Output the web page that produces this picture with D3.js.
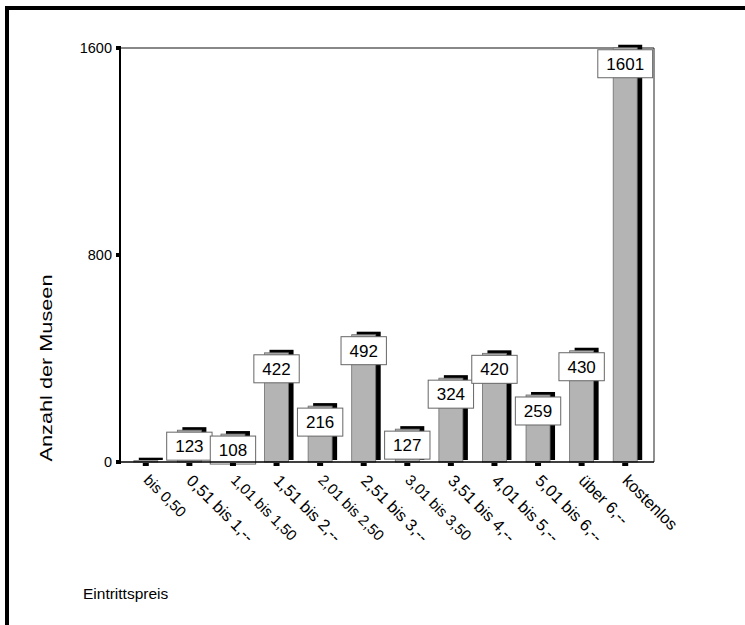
<!DOCTYPE html>
<html>
<head>
<meta charset="utf-8">
<script src="https://cdn.jsdelivr.net/npm/d3@7"></script>
<style>
  body { margin: 0; background: #fff; }
  text { font-family: "Liberation Sans", Arial, sans-serif; fill: #000; }
</style>
</head>
<body>
<div id="chart"></div>
<script>
document.addEventListener("DOMContentLoaded", function() {

  // data
  var categories = ["bis 0,50", "0,51 bis 1,--", "1,01 bis 1,50", "1,51 bis 2,--",
    "2,01 bis 2,50", "2,51 bis 3,--", "3,01 bis 3,50", "3,51 bis 4,--",
    "4,01 bis 5,--", "5,01 bis 6,--", "über 6,--", "kostenlos"];
  var values = [5, 123, 108, 422, 216, 492, 127, 324, 420, 259, 430, 1601];
  var labels = ["", "123", "108", "422", "216", "492", "127", "324", "420", "259", "430", "1601"];
  var yTicks = [0, 800, 1600];

  var width = 745, height = 625;
  var left = 120, right = 654, top = 48, bottom = 462;

  var svg = d3.select("#chart")
    .append("svg")
      .attr("width", width)
      .attr("height", height);

  // outer frame (top and left only)
  svg.append("path")
    .attr("d", "M7,625 L7,8 L745,8")
    .attr("fill", "none")
    .attr("stroke", "#000")
    .attr("stroke-width", 4);

  var x = d3.scaleBand()
    .domain(categories)
    .range([124, 647]);

  var y = d3.scaleLinear()
    .domain([0, 1600])
    .range([bottom, top]);

  var barW = 24;

  // plot frame
  svg.append("line")
    .attr("x1", left).attr("x2", right).attr("y1", top).attr("y2", top)
    .attr("stroke", "#888").attr("stroke-width", 2);
  svg.append("line")
    .attr("x1", right).attr("x2", right).attr("y1", top).attr("y2", bottom)
    .attr("stroke", "#222").attr("stroke-width", 1);

  var bars = svg.selectAll("g.bar")
    .data(categories)
    .enter()
    .append("g")
      .attr("class", "bar");

  // black shadow behind each bar
  bars.append("rect")
    .attr("x", function(d) { return x(d) + x.bandwidth() / 2 - barW / 2 + 5; })
    .attr("y", function(d, i) { return y(values[i]) - 3; })
    .attr("width", barW)
    .attr("height", function(d, i) { return bottom - y(values[i]) + 1; })
    .attr("fill", "#000");

  bars.append("rect")
    .attr("x", function(d) { return x(d) + x.bandwidth() / 2 - barW / 2; })
    .attr("y", function(d, i) { return y(values[i]); })
    .attr("width", barW)
    .attr("height", function(d, i) { return bottom - y(values[i]); })
    .attr("fill", "#b4b4b4")
    .attr("stroke", "#6e6e6e")
    .attr("stroke-width", 0.8);

  // axes lines
  svg.append("line")
    .attr("x1", left).attr("x2", left).attr("y1", top).attr("y2", bottom + 1)
    .attr("stroke", "#000").attr("stroke-width", 2);
  svg.append("line")
    .attr("x1", left).attr("x2", right).attr("y1", bottom).attr("y2", bottom)
    .attr("stroke", "#000").attr("stroke-width", 1.5);

  // y ticks
  svg.selectAll("rect.ytick")
    .data(yTicks)
    .enter()
    .append("rect")
      .attr("class", "ytick")
      .attr("x", 116).attr("width", 5)
      .attr("y", function(d) { return y(d) - 2; }).attr("height", 4)
      .attr("fill", "#000");

  svg.selectAll("text.ylab")
    .data(yTicks)
    .enter()
    .append("text")
      .attr("class", "ylab")
      .attr("x", 112)
      .attr("y", function(d) { return y(d); })
      .attr("dy", "0.35em")
      .attr("text-anchor", "end")
      .style("font-size", "14.5px")
      .text(function(d) { return d; });

  // x ticks
  svg.selectAll("rect.xtick")
    .data(categories)
    .enter()
    .append("rect")
      .attr("class", "xtick")
      .attr("x", function(d) { return x(d) + x.bandwidth() / 2 - 3; })
      .attr("y", bottom + 1).attr("width", 6).attr("height", 3)
      .attr("fill", "#000");

  // labels ending in ",50" are set a bit smaller in the original
  svg.selectAll("text.xlab")
    .data(categories)
    .enter()
    .append("text")
      .attr("class", "xlab")
      .attr("transform", function(d) {
        return "translate(" + (x(d) + x.bandwidth() / 2 + 5) + "," + 473 + ") rotate(45)";
      })
      .attr("dy", "0.75em")
      .style("font-size", function(d) { return /,50$/.test(d) ? "15px" : "16.5px"; })
      .text(function(d) { return d; });

  // value boxes
  var boxes = bars.filter(function(d, i) { return labels[i] !== ""; })
    .append("g")
      .attr("transform", function(d) {
        var i = categories.indexOf(d);
        return "translate(" + (x(d) + x.bandwidth() / 2) + "," + (y(values[i]) + 2) + ")";
      });

  boxes.append("text")
    .attr("text-anchor", "middle")
    .attr("y", 14)
    .attr("dy", "0.36em")
    .style("font-size", "17px")
    .text(function(d) { return labels[categories.indexOf(d)]; });

  boxes.each(function() {
    var g = d3.select(this);
    var w = g.select("text").node().getComputedTextLength() + 17;
    g.insert("rect", "text")
      .attr("x", -w / 2)
      .attr("y", 0)
      .attr("width", w)
      .attr("height", 28)
      .attr("fill", "#fff")
      .attr("stroke", "#666")
      .attr("stroke-width", 1);
  });

  // axis titles
  svg.append("text")
    .attr("transform", "translate(52,368) rotate(-90)")
    .attr("text-anchor", "middle")
    .attr("textLength", 187)
    .attr("lengthAdjust", "spacingAndGlyphs")
    .style("font-size", "17px")
    .text("Anzahl der Museen");

  svg.append("text")
    .attr("x", 83)
    .attr("y", 599)
    .style("font-size", "15.5px")
    .text("Eintrittspreis");

});
</script>
</body>
</html>
